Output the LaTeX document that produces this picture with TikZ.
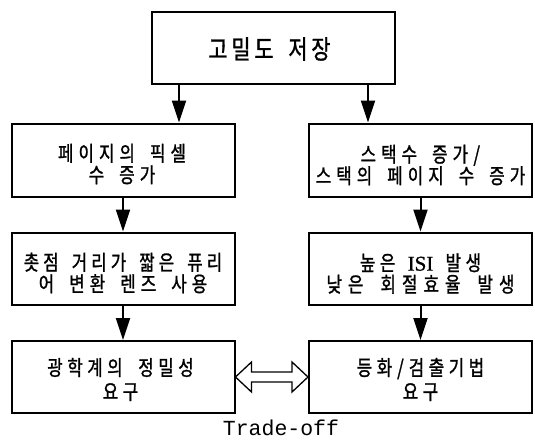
\documentclass[tikz,border=0pt]{standalone}
\usepackage{fontspec}
\newfontfamily\kr[FakeStretch=0.8,FakeBold=1.2]{Noto Sans CJK KR}
\newfontfamily\lat[FakeBold=1]{Liberation Serif}
\newfontfamily\mono{Liberation Mono}
\usetikzlibrary{arrows.meta,calc}
\ExplSyntaxOn
\NewDocumentCommand\pitch{mmm}{\tl_map_inline:nn{#3}{\str_if_eq:nnTF{##1}{|}{\hspace{#2}}{\str_if_eq:nnTF{##1}{/}{\makebox[0.6\dimexpr#1\relax]{##1}}{\makebox[#1]{##1}}}}}
\ExplSyntaxOff
\tikzset{
  box/.style={draw, line width=2pt, minimum width=223pt, minimum height=72pt, inner sep=0pt},
  txt/.style={font=\kr\fontsize{21}{21.5}\selectfont, align=center, inner sep=0pt},
  arr/.style={line width=2pt, -{Triangle[length=22pt,width=14pt]}},
  hollow/.style={line width=1.3pt, line join=miter},
}
\begin{document}
\begin{tikzpicture}[x=1pt,y=-1pt]
\useasboundingbox (0,0) rectangle (535,442);
% boxes
\node[box, minimum width=243pt] (T) at (273.5,48) {};
\node[box, minimum height=73pt] (L2) at (123,160) {};
\node[box, minimum height=73pt] (R2) at (420.5,160) {};
\node[box] (L3) at (123,268.5) {};
\node[box] (R3) at (420.5,268.5) {};
\node[box] (L4) at (123,377) {};
\node[box] (R4) at (420.5,377) {};
% texts
\node[txt, font=\kr\fontsize{26}{27}\selectfont] (Tt) at ($(T.center)+(-4,1)$) {\pitch{23pt}{11pt}{고밀도|저장}};
\node[txt] (L2t) at ($(L2.center)+(-1,4)$) {\pitch{20.5pt}{10pt}{페이지의|픽셀}\\\pitch{20.5pt}{10pt}{수|증가}};
\node[txt] (R2t) at ($(R2.center)+(0,5)$) {\pitch{20.5pt}{10pt}{스택수|증가/}\\\pitch{20.5pt}{10pt}{스택의|페이지|수|증가}};
\node[txt] (L3t) at ($(L3.center)+(0,4.5)$) {\pitch{19.5pt}{9pt}{촛점|거리가|짧은|퓨리}\\\pitch{20.5pt}{10pt}{어|변환|렌즈|사용}};
\node[txt] (R3t) at ($(R3.center)+(0,5)$) {\pitch{20pt}{10pt}{높은|}{\lat ISI}\pitch{20pt}{10pt}{|발생}\\\pitch{21.5pt}{11pt}{낮은|회절효율|발생}};
\node[txt, font=\kr\fontsize{21}{24}\selectfont] (L4t) at ($(L4.center)+(-2.5,2.5)$) {\pitch{20pt}{11pt}{광학계의|정밀성}\\\pitch{20pt}{11pt}{요구}};
\node[txt, font=\kr\fontsize{21}{24}\selectfont] (R4t) at ($(R4.center)+(0,2.5)$) {\pitch{20pt}{9pt}{등화/검출기법}\\\pitch{20pt}{11pt}{요구}};
% arrows
\coordinate (t1) at ($(T.south west)+(28,0)$);
\coordinate (t2) at ($(T.south east)+(-28,0)$);
\draw[arr] (t1) -- (t1 |- L2.north);
\draw[arr] (t2) -- (t2 |- R2.north);
\draw[arr] (L2.south) -- (L3.north);
\draw[arr] (R2.south) -- (R3.north);
\draw[arr] (L3.south) -- (L4.north);
\draw[arr] (R3.south) -- (R4.north);
% trade-off double arrow
\draw[hollow] (L4.east) -- ++(16,-15) -- ++(0,10) -- ($(R4.west)+(-16,-5)$) -- ++(0,-10)
  -- (R4.west) -- ++(-16,15) -- ++(0,-10) -- ($(L4.east)+(16,5)$) -- ++(0,10) -- cycle;
\node[font=\mono\fontsize{21.5}{24}\selectfont, inner sep=0pt] (TO) at (281,428) {Trade-off};
\end{tikzpicture}
\end{document}
